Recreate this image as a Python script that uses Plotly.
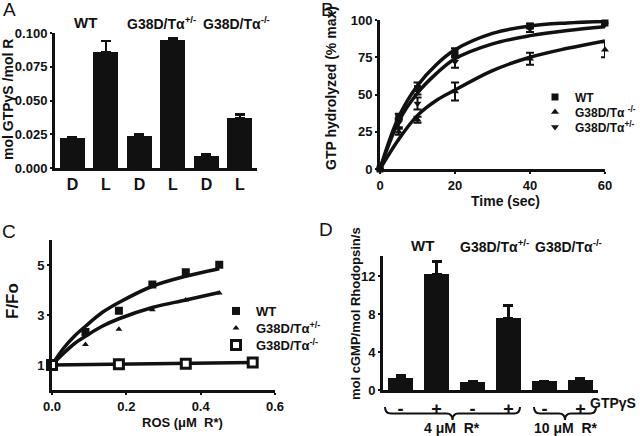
import plotly.graph_objects as go

W, H = 640, 436
FONT = "Arial, Liberation Sans, sans-serif"

# ---- panel A : GTPgS binding
a_labels = ["D", "L", "D", "L", "D", "L"]
a_vals = [0.0225, 0.086, 0.0235, 0.0945, 0.0088, 0.037]
a_err = [0.0003, 0.008, 0.0012, 0.0017, 0.0013, 0.0025]
a_ticks = [0.0, 0.025, 0.05, 0.075, 0.1]

# ---- panel B : GTP hydrolysis time course
b_time = [0, 5, 10, 20, 40, 60]
b_wt = [0, 35, 54, 78, 96, 98]
b_wt_err = [0, 2, 4, 3, 1.5, 1]
b_ko = [0, 25, 33, 52, 74, 80]
b_ko_err = [0, 2, 2, 6, 4, 5]
b_het = [0, 31, 44, 72, 94, 97]
b_het_err = [0, 3, 4, 4, 2, 1.5]
b_fit_t = [0, 5, 10, 15, 20, 30, 40, 50, 60]
b_fit_wt = [0, 35, 56, 70, 80, 91, 96, 98, 99]
b_fit_het = [0, 32, 51, 64, 74, 84, 89.5, 93, 95.5]
b_fit_ko = [0, 20, 36, 46, 53, 66, 75, 81, 86]

# ---- panel C : F/Fo vs ROS
c_ros = [0, 0.09, 0.18, 0.27, 0.36, 0.45]
c_wt = [1.0, 2.32, 3.17, 4.22, 4.71, 5.01]
c_het = [1.0, 1.82, 2.43, 3.21, 3.6, 3.88]
c_ko_ros = [0, 0.18, 0.36, 0.54]
c_ko = [1.0, 1.03, 1.05, 1.1]
c_fit_x = [0, 0.03, 0.06, 0.09, 0.135, 0.18, 0.27, 0.36, 0.45]
c_fit_wt = [1, 1.65, 2.15, 2.55, 3.1, 3.5, 4.15, 4.55, 4.85]
c_fit_het = [1, 1.45, 1.85, 2.15, 2.55, 2.85, 3.3, 3.6, 3.9]

# ---- panel D : PDE activity
d_labels = ["-", "+", "-", "+", "-", "+"]
d_vals = [1.25, 12.2, 0.8, 7.6, 0.9, 1.05]
d_err = [0.25, 1.3, 0.15, 1.3, 0.05, 0.22]

het = "G38D/Tα<sup>+/-</sup>"
ko = "G38D/Tα<sup>-/-</sup>"
BLK = "#111"


def px(x):
    return x / W


def py(y):
    return 1 - y / H


fig = go.Figure()

fig.add_trace(go.Bar(x=list(range(len(a_vals))), y=a_vals, width=0.75,
                     marker=dict(color=BLK, line_width=0),
                     error_y=dict(type="data", array=a_err, arrayminus=[0] * 6, symmetric=False,
                                  color=BLK, thickness=2.5, width=5),
                     xaxis="x", yaxis="y", showlegend=False))

fit_style = dict(color=BLK, width=3.5, shape="spline")
for ys in [b_fit_wt, b_fit_het, b_fit_ko]:
    fig.add_trace(go.Scatter(x=b_fit_t, y=ys, mode="lines", line=fit_style,
                             xaxis="x2", yaxis="y2", showlegend=False, cliponaxis=False))
for name, ys, err, sym, leg in [("WT", b_wt, b_wt_err, "square", "legend"),
                                ("G38D/Tα <sup>-/-</sup>", b_ko, b_ko_err, "triangle-up", "legend3"),
                                (het, b_het, b_het_err, "triangle-down", "legend4")]:
    fig.add_trace(go.Scatter(x=b_time, y=ys, mode="markers", name=name,
                             marker=dict(symbol=sym, size=7, color=BLK),
                             error_y=dict(type="data", array=err, color=BLK, thickness=2, width=4),
                             xaxis="x2", yaxis="y2", legend=leg, cliponaxis=False))

for ys in [c_fit_wt, c_fit_het]:
    fig.add_trace(go.Scatter(x=c_fit_x, y=ys, mode="lines", line=fit_style,
                             xaxis="x3", yaxis="y3", showlegend=False, cliponaxis=False))
fig.add_trace(go.Scatter(x=c_ko_ros, y=c_ko, mode="lines", line=dict(color=BLK, width=3.5),
                         xaxis="x3", yaxis="y3", showlegend=False, cliponaxis=False))
fig.add_trace(go.Scatter(x=c_ros, y=c_wt, mode="markers", name="WT",
                         marker=dict(symbol="square", size=8, color=BLK),
                         xaxis="x3", yaxis="y3", legend="legend2", cliponaxis=False))
fig.add_trace(go.Scatter(x=c_ros, y=c_het, mode="markers", name=het,
                         marker=dict(symbol="triangle-up", size=6, color=BLK),
                         xaxis="x3", yaxis="y3", legend="legend5", cliponaxis=False))
fig.add_trace(go.Scatter(x=c_ko_ros, y=c_ko, mode="markers", name=ko,
                         marker=dict(symbol="square", size=9, color="white",
                                     line=dict(color=BLK, width=3)),
                         xaxis="x3", yaxis="y3", legend="legend6", cliponaxis=False))

fig.add_trace(go.Bar(x=list(range(len(d_vals))), y=d_vals, width=0.7,
                     marker=dict(color=BLK, line_width=0),
                     error_y=dict(type="data", array=d_err, arrayminus=[0] * 6, symmetric=False,
                                  color=BLK, thickness=2.5, width=5),
                     xaxis="x4", yaxis="y4", showlegend=False))

tickfont = dict(family=FONT, size=13, color=BLK, weight="bold")
axis = dict(showline=True, linewidth=3, linecolor=BLK, showgrid=False, zeroline=False,
            ticks="outside", tickwidth=2, ticklen=2, tickcolor=BLK, tickfont=tickfont)


def leg(sym_x, y, size=13):
    # one legend per entry so the rows can sit as tight as in the figure
    return dict(x=px(sym_x - 20), y=py(y), xanchor="left", yanchor="middle",
                font=dict(family=FONT, size=size, color=BLK, weight="bold"),
                bgcolor="rgba(0,0,0,0)", itemwidth=30, borderwidth=0)


fig.update_layout(
    width=W, height=H, margin=dict(l=0, r=0, t=0, b=0, autoexpand=False),
    paper_bgcolor="white", plot_bgcolor="white",
    font=dict(family=FONT, color=BLK),
    bargap=0,
    xaxis=dict(axis, domain=[px(55), px(257)], range=[-0.52, 5.51], anchor="y",
               tickvals=list(range(6)), ticktext=a_labels, ticks="",
               tickfont=dict(tickfont, size=16)),
    yaxis=dict(axis, domain=[py(168), py(33)], range=[0, 0.1], anchor="x",
               tickvals=a_ticks, tickformat=".3f"),
    xaxis2=dict(axis, domain=[px(380), px(605)], range=[0, 60], anchor="y2",
                tickvals=[0, 20, 40, 60]),
    yaxis2=dict(axis, domain=[py(169), py(20)], range=[0, 100], anchor="x2",
                tickvals=[0, 25, 50, 75, 100]),
    xaxis3=dict(axis, domain=[px(52), px(275)], range=[0, 0.6], anchor="y3",
                tickvals=[0, 0.2, 0.4, 0.6], tickformat=".1f"),
    yaxis3=dict(axis, domain=[py(390), py(240)], range=[0, 6], anchor="x3",
                tickvals=[1, 3, 5]),
    xaxis4=dict(axis, domain=[px(383), px(598)], range=[-0.49, 5.49], anchor="y4",
                tickvals=list(range(6)), ticktext=d_labels, ticks="",
                tickfont=dict(tickfont, size=18)),
    yaxis4=dict(axis, domain=[py(390), py(256)], range=[0, 14.1], anchor="x4",
                tickvals=[0, 4, 8, 12]),
    legend=leg(555, 97, 12),
    legend3=leg(555, 112, 12),
    legend4=leg(555, 127, 12),
    legend2=leg(236, 311),
    legend5=leg(236, 328),
    legend6=leg(236, 345),
)


def note(text, x, y, size=13, bold=True, angle=0, xanchor="center"):
    fig.add_annotation(text=text, x=px(x), y=py(y), xref="paper", yref="paper",
                       showarrow=False, textangle=angle, xanchor=xanchor, yanchor="middle",
                       font=dict(family=FONT, size=size, color=BLK,
                                 weight="bold" if bold else "normal"))


# panel letters
note("A", 9, 9, size=19, bold=False)
note("B", 327, 9, size=19, bold=False)
note("C", 9, 231, size=19, bold=False)
note("D", 326, 229, size=19, bold=False)

# group labels
note("WT", 85, 23, size=15)
note(het, 161, 23, size=14)
note(ko, 236, 23, size=14)
note("WT", 422, 246, size=15)
note(het, 494, 246, size=14)
note(ko, 568, 246, size=14)

# axis titles
note("mol GTPγS /mol R", 8, 100, size=14, angle=-90)
note("GTP hydrolyzed (% max)", 331, 88, size=14, angle=-90)
note("Time (sec)", 505, 201, size=14)
note("F/Fo", 12, 301, size=17, angle=-90)
note("ROS (μM  R*)", 182, 422, size=13)
note("mol cGMP/mol Rhodopsin/s", 355, 314, size=13, angle=-90)
note("GTPγS", 638, 403, size=14, xanchor="right")
note("4 μM  R*", 452, 428, size=14)
note("10 μM  R*", 566, 428, size=14)


def brace(x0, x1, ytop, depth=13, r=6):
    xm = (x0 + x1) / 2
    ymid = ytop + depth / 2
    ybot = ytop + depth
    pts = [("M", x0, ytop), ("Q", x0, ymid), ("", x0 + r, ymid), ("L", xm - r, ymid),
           ("Q", xm, ymid), ("", xm, ybot), ("Q", xm, ymid), ("", xm + r, ymid),
           ("L", x1 - r, ymid), ("Q", x1, ymid), ("", x1, ytop)]
    path = " ".join(f"{c} {px(x):.5f},{py(y):.5f}".strip() for c, x, y in pts)
    fig.add_shape(type="path", path=path, xref="paper", yref="paper",
                  line=dict(color=BLK, width=2))


brace(385, 520, 407)
brace(534, 596, 407)

# page body has a default margin, drop it so the figure sits at 0,0
fig.write_html("out.html", config={"displayModeBar": False},
               post_script="document.body.style.margin='0';document.body.style.overflow='hidden';")
